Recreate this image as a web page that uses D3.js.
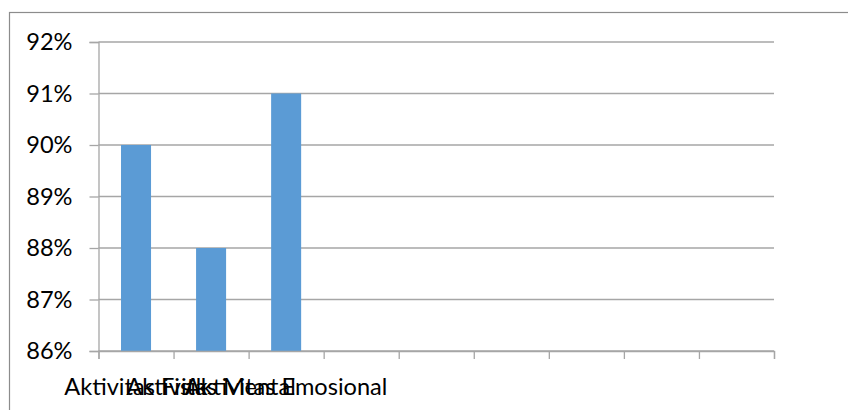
<!DOCTYPE html>
<html>
<head>
<meta charset="utf-8">
<script src="https://cdn.jsdelivr.net/npm/d3@7"></script>
<style>
  html, body { margin: 0; padding: 0; background: #fff; }
  svg { display: block; }
  text { font-family: Lato, "Noto Sans", sans-serif; fill: #000; }
</style>
</head>
<body>
<svg id="chart" width="848" height="410"></svg>
<script>
// Category slots along the x axis (empty slots keep their place on the axis)
const categories = ["Aktivitas Fisik", "Aktivitas Mental", "Aktivitas Emosional", "", "", "", "", "", ""];
// Share of respondents per category
const values = [0.90, 0.88, 0.91];
// Y axis tick values
const yTicks = [0.86, 0.87, 0.88, 0.89, 0.90, 0.91, 0.92];

const svg = d3.select("#chart");
const W = 848, H = 410;
const margin = { left: 98.5, right: W - 774, top: 42, bottom: H - 351 };
const fontSize = "23.6px";

// Outer chart frame
svg.append("rect")
  .attr("x", 9.5).attr("y", 12.5)
  .attr("width", W).attr("height", H)
  .attr("fill", "none").attr("stroke", "#8c8c8c").attr("stroke-width", 1.2);

const x = d3.scaleBand()
  .domain(d3.range(categories.length))
  .range([margin.left, W - margin.right])
  .paddingInner(0.6).paddingOuter(0.3);

const slots = d3.scaleLinear()
  .domain([0, categories.length])
  .range([margin.left, W - margin.right]);

const y = d3.scaleLinear()
  .domain([d3.min(yTicks), d3.max(yTicks)])
  .range([H - margin.bottom, margin.top]);

const gridColor = "#a6a6a6";

// Horizontal gridlines
svg.append("g")
  .selectAll("line")
  .data(yTicks)
  .join("line")
  .attr("x1", margin.left).attr("x2", W - margin.right)
  .attr("y1", d => y(d)).attr("y2", d => y(d))
  .attr("stroke", gridColor).attr("stroke-width", 1.3);

// Bars
svg.append("g")
  .selectAll("rect")
  .data(values)
  .join("rect")
  .attr("x", (d, i) => x(i))
  .attr("width", x.bandwidth())
  .attr("y", d => y(d))
  .attr("height", d => y(d3.min(yTicks)) - y(d))
  .attr("fill", "#5b9bd5");

// Y axis
const yAxis = svg.append("g")
  .attr("transform", `translate(${margin.left},0)`)
  .call(d3.axisLeft(y).tickValues(yTicks).tickFormat(d3.format(".0%")).tickSize(9).tickPadding(17));
yAxis.select(".domain").attr("stroke", gridColor).attr("stroke-width", 1.3);
yAxis.selectAll(".tick line").attr("stroke", gridColor).attr("stroke-width", 1.3);
yAxis.selectAll(".tick text")
  .style("font-family", "Lato, 'Noto Sans', sans-serif")
  .style("font-size", fontSize).attr("fill", "#000");

// X axis: ticks at slot boundaries
const xAxis = svg.append("g")
  .attr("transform", `translate(0,${H - margin.bottom})`)
  .call(d3.axisBottom(slots).tickValues(d3.range(categories.length + 1)).tickFormat("").tickSize(8));
xAxis.select(".domain").attr("stroke", gridColor).attr("stroke-width", 1.3);
xAxis.selectAll(".tick line").attr("stroke", gridColor).attr("stroke-width", 1.3);

// Category labels, centred on their slots
svg.append("g")
  .selectAll("text")
  .data(categories)
  .join("text")
  .attr("x", (d, i) => x(i) + x.bandwidth() / 2)
  .attr("y", 394.5)
  .attr("text-anchor", "middle")
  .style("font-size", fontSize)
  .text(d => d);
</script>
</body>
</html>
